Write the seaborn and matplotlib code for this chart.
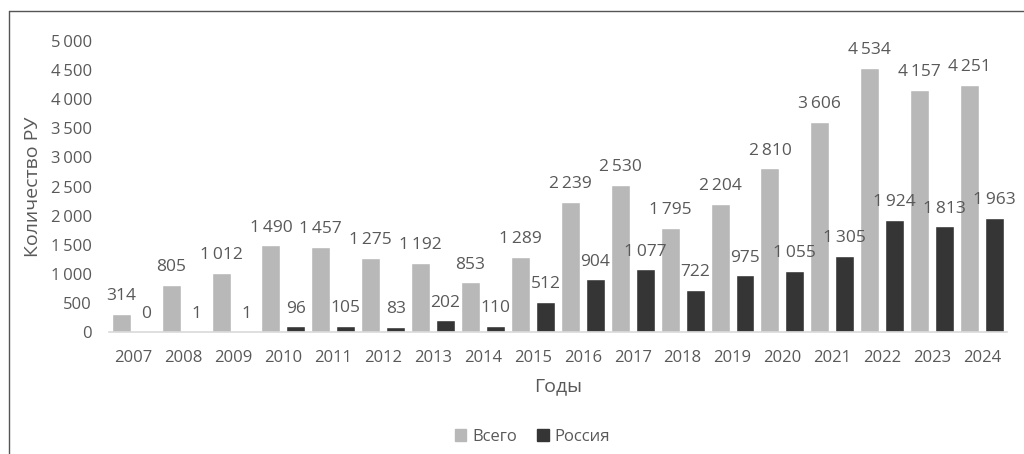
import numpy as np
import pandas as pd
import matplotlib
matplotlib.use("Agg")
import matplotlib.pyplot as plt
from matplotlib.lines import Line2D
from matplotlib.ticker import FuncFormatter
import seaborn as sns

years = [str(y) for y in range(2007, 2025)]
vsego = [314, 805, 1012, 1490, 1457, 1275, 1192, 853, 1289, 2239, 2530, 1795,
         2204, 2810, 3606, 4534, 4157, 4251]
rossiya = [0, 1, 1, 96, 105, 83, 202, 110, 512, 904, 1077, 722,
           975, 1055, 1305, 1924, 1813, 1963]
series_names = ["Всего", "Россия"]

sns.set_style("white")
plt.rcParams["font.family"] = ["Open Sans", "DejaVu Sans"]
txt = "#595959"


def fmt_num(v):
    # разделитель тысяч - узкий пробел
    s = f"{int(v):,}"
    return s.replace(",", "\u2009")


df = pd.DataFrame({
    "Год": years * 2,
    "Значение": vsego + rossiya,
    "Серия": [series_names[0]] * len(years) + [series_names[1]] * len(years),
})

fig = plt.figure(figsize=(10.24, 4.54), dpi=100)
ax = fig.add_axes([0.1062, 0.2687, 0.8772, 0.641])

sns.barplot(data=df, x="Год", y="Значение", hue="Серия",
            palette=["#b8b8b8", "#353535"], width=1.0, gap=0.24,
            saturation=1, ax=ax, legend=False)

# подписи данных
for cont in ax.containers:
    ax.bar_label(cont, labels=[fmt_num(b.get_height()) for b in cont],
                 padding=7, fontsize=12.5, color=txt)

ax.set_xlim(-0.5, len(years) - 0.5)
ax.set_ylim(0, 5000)
ax.set_yticks(np.arange(0, 5001, 500))
ax.yaxis.set_major_formatter(FuncFormatter(lambda v, p: fmt_num(v)))
ax.tick_params(axis="both", length=0, labelsize=12, labelcolor=txt)
ax.tick_params(axis="x", pad=13)
ax.tick_params(axis="y", pad=12)

for s in ["top", "right", "left"]:
    ax.spines[s].set_visible(False)
ax.spines["bottom"].set_color("#d9d9d9")
ax.spines["bottom"].set_linewidth(1.2)

ax.set_xlabel("Годы", fontsize=14, color=txt, labelpad=8)
ax.set_ylabel("Количество РУ", fontsize=14, color=txt, labelpad=6)

handles = [plt.Rectangle((0, 0), 1, 1, color="#b8b8b8"),
           plt.Rectangle((0, 0), 1, 1, color="#353535")]
fig.legend(handles, series_names, loc="center", bbox_to_anchor=(0.52, 0.038),
           ncol=2, frameon=False, fontsize=12, labelcolor=txt,
           handlelength=0.7, handleheight=0.7, handletextpad=0.35,
           columnspacing=1.2)

# рамка рисунка (левая и верхняя стороны)
fig.add_artist(Line2D([0.009, 0.009], [0.0, 0.976], color="#555555", lw=1))
fig.add_artist(Line2D([0.009, 1.0], [0.976, 0.976], color="#555555", lw=1))

fig.savefig("out.png", dpi=100)
